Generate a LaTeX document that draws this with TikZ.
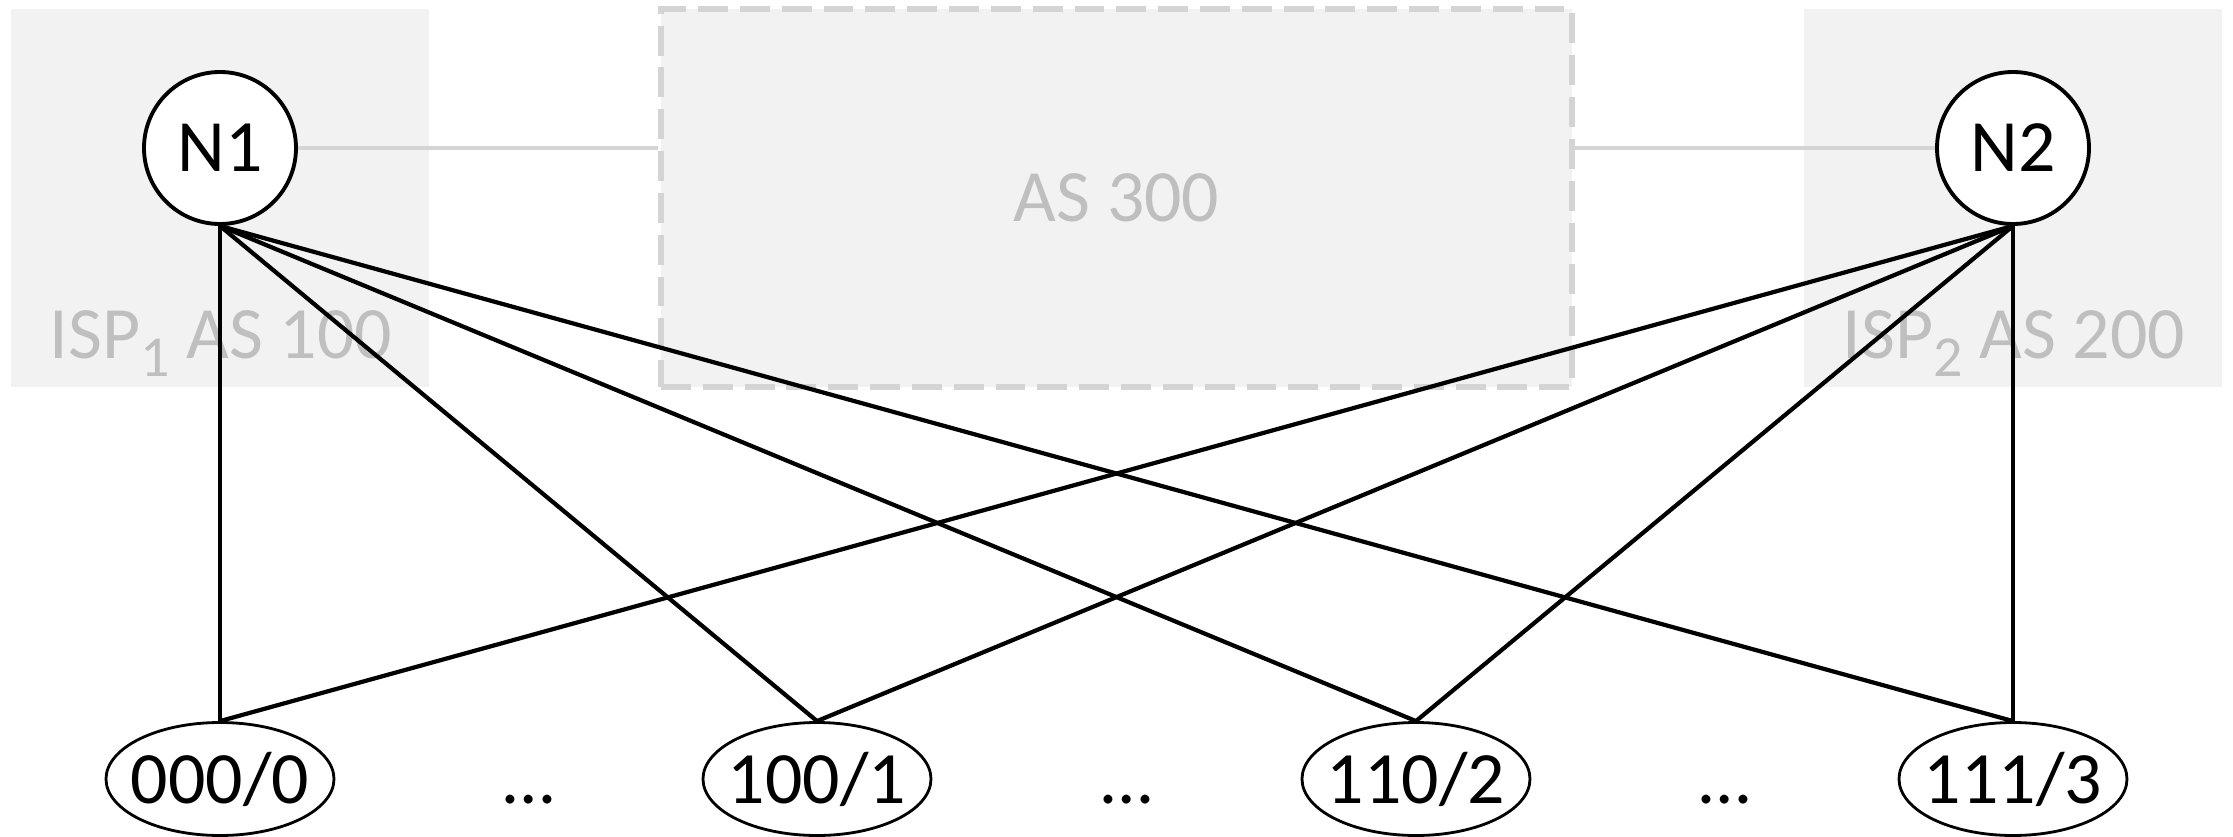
\documentclass[tikz,border=0pt]{standalone}
\usepackage{fontspec}
\setmainfont{Carlito}
\usetikzlibrary{positioning,calc,shapes.geometric}
\definecolor{RegionFill}{HTML}{F2F2F2}
\definecolor{RegionLine}{HTML}{D4D4D4}
\definecolor{RegionText}{HTML}{BFBFBF}
\newcommand{\ispsub}[1]{\raisebox{-5.4pt}{\fontsize{16.5pt}{16pt}\selectfont #1}}

\begin{document}
\begin{tikzpicture}[
  region/.style={fill=RegionFill,draw=none,minimum width=4.18cm,minimum height=3.78cm,inner sep=0pt},
  transit/.style={fill=RegionFill,draw=RegionLine,line width=1.6pt,dash pattern=on 8.5pt off 3.4pt,minimum width=9.11cm,minimum height=3.78cm,inner sep=0pt,text=RegionText,font=\fontsize{21pt}{25pt}\selectfont},
  regionlabel/.style={text=RegionText,font=\fontsize{21pt}{25pt}\selectfont,inner sep=0pt,anchor=base},
  router/.style={circle,draw=black,line width=1.1pt,fill=white,minimum size=1.52cm,inner sep=0pt,font=\fontsize{21pt}{25pt}\selectfont},
  prefixnode/.style={ellipse,draw=black,line width=0.8pt,fill=white,minimum width=2.28cm,minimum height=1.13cm,inner sep=0pt,font=\fontsize{21pt}{25pt}\selectfont},
  gapdots/.style={inner sep=0pt,anchor=base,xshift=1mm,font=\fontsize{21pt}{25pt}\selectfont},
  link/.style={draw=black,line width=1.2pt},
  peer/.style={draw=RegionLine,line width=1pt}
]
\useasboundingbox (0,0) rectangle (22.33,-8.37);
% regions
\node[region] (isp1) at (2.20,-1.98) {};
\node[region] (isp2) at (20.13,-1.98) {};
\node[transit] (as300) at (11.165,-1.98) {AS 300};
\node[regionlabel] (isp1lbl) at (2.21,-3.58) {ISP\ispsub{1} AS 100};
\node[regionlabel] (isp2lbl) at (20.14,-3.58) {ISP\ispsub{2} AS 200};
% routers
\node[router] (n1) at (2.20,-1.48) {N1};
\node[router] (n2) at (20.13,-1.48) {N2};
% prefixes
\node[prefixnode] (p0) at (2.20,-7.79) {\makebox[0pt]{000/0}};
\node[prefixnode] (p1) at (8.17,-7.79) {\makebox[0pt]{100/1}};
\node[prefixnode] (p2) at (14.16,-7.79) {\makebox[0pt]{110/2}};
\node[prefixnode] (p3) at (20.13,-7.79) {\makebox[0pt]{111/3}};
\node[gapdots] (g1) at ($(p0.base)!0.5!(p1.base)$) {…};
\node[gapdots] (g2) at ($(p1.base)!0.5!(p2.base)$) {…};
\node[gapdots] (g3) at ($(p2.base)!0.5!(p3.base)$) {…};
% peering
\draw[peer] (n1.east) -- (n1.east -| as300.west);
\draw[peer] (as300.east |- n2.west) -- (n2.west);
% links
\draw[link] (n1.south) -- (p0.north);
\draw[link] (n1.south) -- (p1.north);
\draw[link] (n1.south) -- (p2.north);
\draw[link] (n1.south) -- (p3.north);
\draw[link] (n2.south) -- (p0.north);
\draw[link] (n2.south) -- (p1.north);
\draw[link] (n2.south) -- (p2.north);
\draw[link] (n2.south) -- (p3.north);
\end{tikzpicture}
\end{document}
